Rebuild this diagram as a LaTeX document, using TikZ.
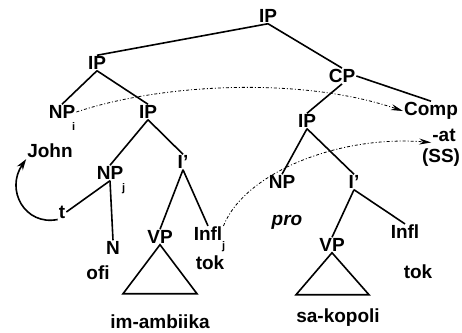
\documentclass[tikz,border=0pt]{standalone}
\usepackage{fontspec}
\setmainfont{Liberation Sans}
\usetikzlibrary{arrows.meta}
\newcommand{\lowsub}[3]{\rlap{\hspace{#1}\smash{\raisebox{#2}{\fontsize{11}{11}\selectfont #3}}}}

\begin{document}
\begin{tikzpicture}[x=1pt,y=-1pt,
  every node/.style={font=\fontsize{19}{21}\selectfont\bfseries,inner sep=1pt},
  edge/.style={line width=1.6pt},
  move/.style={line width=0.8pt,dash pattern=on 3pt off 2pt on 1pt off 2pt,-{Stealth[length=12pt,width=6pt]}}]
\useasboundingbox (0,0) rectangle (462,332);
\node (N0) at (268,16) {IP};
\node (N1) at (97,63) {IP};
\node (N2) at (62,112) {NP\lowsub{-3pt}{-12pt}{i}};
\node (N3) at (148,112) {IP};
\node (N4) at (50,151) {John};
\node (N5) at (110,173) {NP\lowsub{-1pt}{-12pt}{j}};
\node (N6) at (183,162) {I'};
\node (N7) at (62,212) {t};
\node (N8) at (113,248) {N};
\node (N9) at (98,273) {ofi};
\node (N10) at (160,237) {VP};
\node (N11) at (208,234) {Infl\lowsub{0pt}{-9pt}{j}};
\node (N12) at (210,263) {tok};
\node (N13) at (160,322) {im-ambiika};
\node (N14) at (342,76) {CP};
\node (N15) at (431,111) {Comp};
\node (N16) at (444,135) {-at};
\node (N17) at (441,158) {(SS)};
\node (N18) at (307,121) {IP};
\node (N19) at (282,182) {NP};
\node (N20) at (287,222) {\itshape pro};
\node (N21) at (354,182) {I'};
\node (N22) at (332,245) {VP};
\node (N23) at (405,232) {Infl};
\node (N24) at (418,272) {tok};
\node (N25) at (338,318) {sa-kopoli};
\draw[edge] (N0.south) -- (N1.north);
\draw[edge] (N0.south) -- (N14.north);
\draw[edge] (N1.south) -- (N2.north);
\draw[edge] (N1.south) -- (N3.north);
\draw[edge] (N3.south) -- (N5.north);
\draw[edge] (N3.south) -- (N6.north);
\draw[edge] (N5.south) -- (N7.east);
\draw[edge] (N5.south) -- (N8.north);
\draw[edge] (N6.south) -- (N10.north);
\draw[edge] (N6.south) -- (N11.north);
\draw[edge] (N10.south) -- ++(-37,49) -- ++(74,0) -- cycle;
\draw[edge] (N14.east) -- (N15.north);
\draw[edge] (N14.south) -- (N18.north);
\draw[edge] (N18.south) -- (N19.north);
\draw[edge] (N18.south) -- (N21.north);
\draw[edge] (N21.south) -- (N22.north);
\draw[edge] (N21.south) -- (N23.north);
\draw[edge] (N22.south) -- ++(-36,42) -- ++(73,0) -- cycle;
\draw[edge,-{Stealth[length=11pt,width=7pt]}] (N7.south west) .. controls (25,226) and (5,190) .. (N4.south west);
\draw[move] (N2.east) .. controls (160,84) and (300,76) .. (N15.west);
\draw[move] (N11.north east) .. controls (245,172) and (340,135) .. (N16.south west);
\end{tikzpicture}
\end{document}
